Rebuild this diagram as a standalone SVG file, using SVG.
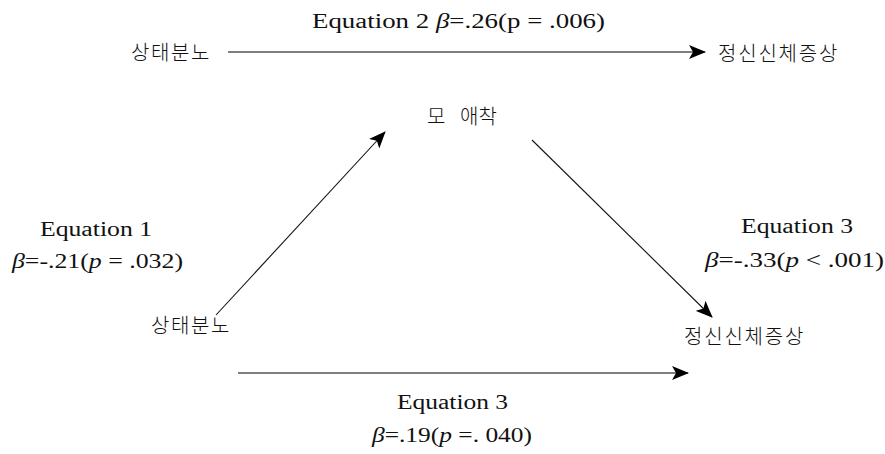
<svg xmlns="http://www.w3.org/2000/svg" width="885" height="454" viewBox="0 0 885 454">
<style>
.t{font-family:"Liberation Serif","Noto Sans CJK KR",serif;font-size:20.5px;fill:#111}
.k{font-family:"Noto Sans CJK KR","Liberation Serif",serif;font-size:20px;fill:#111;font-weight:300}
.i{font-style:italic}
.ln{stroke:#555;stroke-width:1.6;fill:none}
.dg{stroke:#111;stroke-width:1.1;fill:none}
</style>
<defs>
<marker id="ah" markerUnits="userSpaceOnUse" markerWidth="20" markerHeight="14" refX="16" refY="7" orient="auto">
<path d="M0,0 L17,7 L0,14 L4,7 Z" fill="#000"/>
</marker>
</defs>
<rect width="885" height="454" fill="#fff"/>
<g id="connectors">
<line class="ln" x1="228" y1="52" x2="705" y2="52" marker-end="url(#ah)"/>
<line class="dg" x1="216" y1="315" x2="385" y2="132" marker-end="url(#ah)"/>
<line class="dg" x1="532" y1="140" x2="712" y2="317" marker-end="url(#ah)"/>
<line class="ln" x1="238" y1="373" x2="688" y2="373" marker-end="url(#ah)"/>
</g>
<g id="label-eq2"><text class="t" x="312" y="28" textLength="293" lengthAdjust="spacingAndGlyphs">Equation 2 <tspan class="i">β</tspan>=.26(p = .006)</text></g>
<g id="node-anger-top"><text class="k" x="131" y="60" letter-spacing="1.6">상태분노</text></g>
<g id="node-psy-top"><text class="k" x="718" y="61" letter-spacing="1.8">정신신체증상</text></g>
<g id="node-attach"><text class="k" x="427" y="124">모</text><text class="k" x="460" y="124">애착</text></g>
<g id="label-eq1"><text class="t" x="40" y="236" textLength="112" lengthAdjust="spacingAndGlyphs">Equation 1</text><text class="t" x="12" y="268" textLength="171" lengthAdjust="spacingAndGlyphs"><tspan class="i">β</tspan>=-.21(<tspan class="i">p</tspan> = .032)</text></g>
<g id="node-anger"><text class="k" x="151" y="333" letter-spacing="1.6">상태분노</text></g>
<g id="label-eq3a"><text class="t" x="741" y="233" textLength="112" lengthAdjust="spacingAndGlyphs">Equation 3</text><text class="t" x="705" y="267" textLength="179" lengthAdjust="spacingAndGlyphs"><tspan class="i">β</tspan>=-.33(<tspan class="i">p</tspan> &lt; .001)</text></g>
<g id="node-psy"><text class="k" x="684" y="344" letter-spacing="1.8">정신신체증상</text></g>
<g id="label-eq3b"><text class="t" x="397" y="409" textLength="111" lengthAdjust="spacingAndGlyphs">Equation 3</text><text class="t" x="372" y="442" textLength="160" lengthAdjust="spacingAndGlyphs"><tspan class="i">β</tspan>=.19(<tspan class="i">p</tspan> =. 040)</text></g>
</svg>
